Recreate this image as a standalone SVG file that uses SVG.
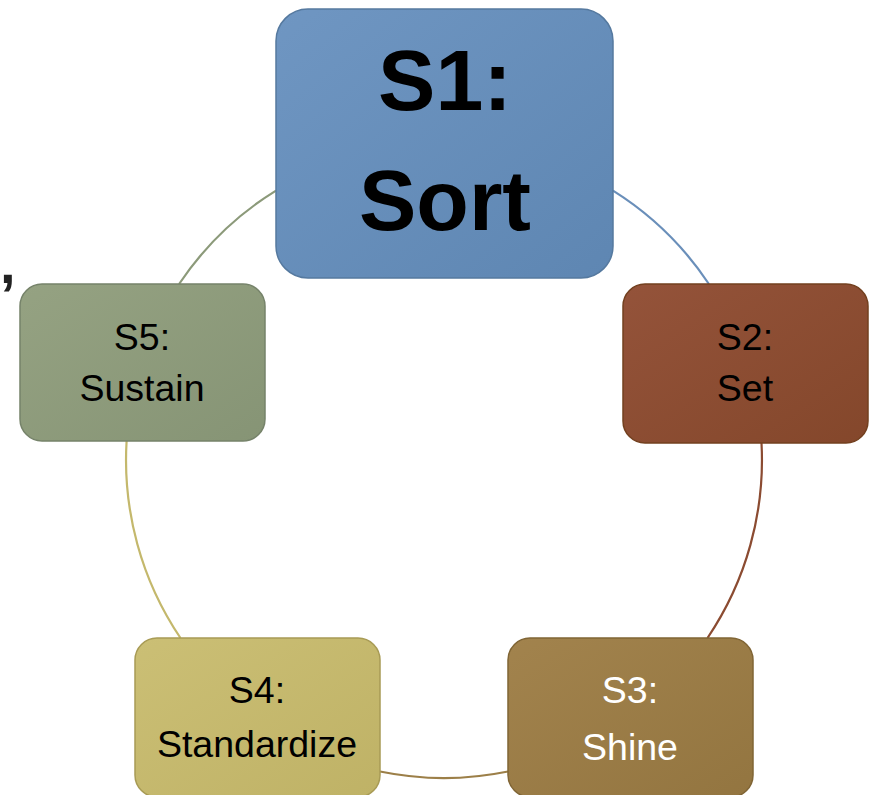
<svg xmlns="http://www.w3.org/2000/svg" width="874" height="795" viewBox="0 0 874 795">
<defs>
<style>
.lbl{font-family:"Liberation Sans",Arial,sans-serif;text-anchor:middle;fill:#000}
.big{font-size:86px;font-weight:bold}
.sm{font-size:37.5px}
.arc{fill:none;stroke-width:2.2}
.box{stroke-width:1.5}
</style>
<linearGradient id="g1" x1="0" y1="0" x2="1" y2="1"><stop offset="0" stop-color="#6f96c2"/><stop offset="1" stop-color="#5e86b2"/></linearGradient>
<linearGradient id="g2" x1="0" y1="0" x2="1" y2="1"><stop offset="0" stop-color="#94533a"/><stop offset="1" stop-color="#84472b"/></linearGradient>
<linearGradient id="g3" x1="0" y1="0" x2="1" y2="1"><stop offset="0" stop-color="#a2834d"/><stop offset="1" stop-color="#937540"/></linearGradient>
<linearGradient id="g4" x1="0" y1="0" x2="1" y2="1"><stop offset="0" stop-color="#cbbf75"/><stop offset="1" stop-color="#bfb266"/></linearGradient>
<linearGradient id="g5" x1="0" y1="0" x2="1" y2="1"><stop offset="0" stop-color="#95a282"/><stop offset="1" stop-color="#869475"/></linearGradient>
</defs>
<rect width="874" height="795" fill="#fff"/>
<g id="connectors">
<path class="arc" stroke="#6a8fba" d="M613,190.6 A318,318 0 0 1 708.9,284"/>
<path class="arc" stroke="#8b4b31" d="M761.5,443 A318,318 0 0 1 707.5,638"/>
<path class="arc" stroke="#9c7f48" d="M508,771.5 A318,318 0 0 1 380,771.5"/>
<path class="arc" stroke="#c4b86c" d="M180.5,638 A318,318 0 0 1 126.6,441"/>
<path class="arc" stroke="#8c9a7a" d="M179.1,284 A318,318 0 0 1 276,190.6"/>
</g>
<g id="s1">
<rect class="box" x="276" y="9" width="337" height="269" rx="32" fill="url(#g1)" stroke="#55799f"/>
<text class="lbl big" x="445" y="110">S1:</text>
<text class="lbl big" x="445" y="230">Sort</text>
</g>
<g id="s2">
<rect class="box" x="623" y="284" width="245" height="159" rx="22" fill="url(#g2)" stroke="#73401f"/>
<text class="lbl sm" x="745" y="350">S2:</text>
<text class="lbl sm" x="745" y="401">Set</text>
</g>
<g id="s3">
<rect class="box" x="508" y="638" width="245" height="159" rx="22" fill="url(#g3)" stroke="#806535"/>
<text class="lbl sm" x="630" y="703" style="fill:#fff">S3:</text>
<text class="lbl sm" x="630" y="760" style="fill:#fff">Shine</text>
</g>
<g id="s4">
<rect class="box" x="135" y="638" width="245" height="159" rx="22" fill="url(#g4)" stroke="#a89b55"/>
<text class="lbl sm" x="257" y="703">S4:</text>
<text class="lbl sm" x="257" y="757">Standardize</text>
</g>
<g id="s5">
<rect class="box" x="20" y="284" width="245" height="157" rx="22" fill="url(#g5)" stroke="#76836a"/>
<text class="lbl sm" x="142" y="350">S5:</text>
<text class="lbl sm" x="142" y="401">Sustain</text>
</g>
<text x="0" y="283" style="font-family:'Liberation Sans',Arial,sans-serif;font-size:56px;font-weight:bold;fill:#222">,</text>
</svg>
